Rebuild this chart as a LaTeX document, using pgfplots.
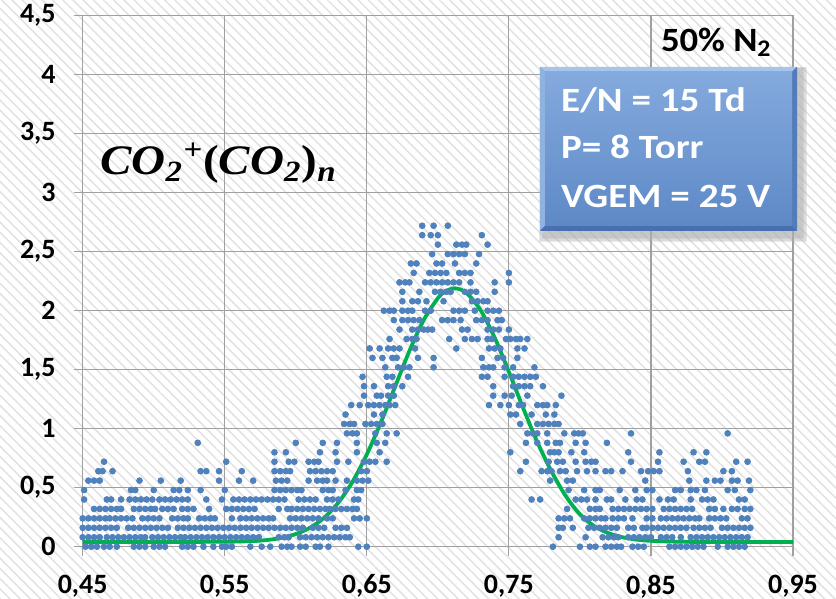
\documentclass[border=0pt]{standalone}
\usepackage[no-math]{fontspec}
\setmainfont{Carlito}
\newfontfamily\titlefont{Liberation Serif}
\usepackage{graphicx}
\usepackage{pgfplots}
\pgfplotsset{compat=1.18}
\usetikzlibrary{patterns.meta}
\definecolor{dotblue}{HTML}{4F81BD}
\definecolor{fitgreen}{HTML}{00B050}
\definecolor{gridgray}{HTML}{A0A0A0}
\definecolor{stripe}{HTML}{E2E2E2}
\definecolor{boxtop}{HTML}{A7C4EA}
\definecolor{boxleft}{HTML}{8FB2E0}
\definecolor{boxbot}{HTML}{4670AE}
\definecolor{boxright}{HTML}{537DBA}
\definecolor{boxin1}{HTML}{84AADE}
\definecolor{boxin2}{HTML}{5E89C6}
\definecolor{shad}{HTML}{B0B0B0}
\newcommand{\titletext}{\scalebox{1.12}[1]{\titlefont\fontsize{21}{24}\selectfont\bfseries\itshape CO\textsubscript{2}\textsuperscript{+}{\upshape(}CO\textsubscript{2}{\upshape)}\textsubscript{n}}}
\newcommand{\gastext}{\scalebox{1.08}[1]{\bfseries\fontsize{17}{20}\selectfont 50\% N\textsubscript{2}}}
\newcommand{\boxline}[1]{\scalebox{1.15}[1]{\bfseries\fontsize{17}{20}\selectfont #1}}
\begin{document}
\begin{tikzpicture}
\path[use as bounding box] (0pt,0pt) rectangle (418pt,299.5pt);
\fill[white] (0pt,0pt) rectangle (418pt,299.5pt);
\fill[pattern={Lines[angle=-45,distance=3.6pt,line width=0.75pt]},pattern color=stripe] (0pt,0pt) rectangle (418pt,299.5pt);
\begin{axis}[at={(41.35pt,26.15pt)}, anchor=south west, scale only axis,
  width=355.15pt, height=265.5pt,
  xmin=0.45, xmax=0.95, ymin=0, ymax=4.5,
  xtick={0.45,0.55,0.65,0.75,0.85,0.95},
  xticklabels={{0,45},{0,55},{0,65},{0,75},{0,85},{0,95}},
  ytick={0,0.5,1,1.5,2,2.5,3,3.5,4,4.5},
  yticklabels={0,{0,5},1,{1,5},2,{2,5},3,{3,5},4,{4,5}},
  grid=major, grid style={gridgray,line width=0.6pt},
  axis line style={gridgray,line width=0.6pt},
  tick style={gridgray,line width=0.6pt},
  tick align=outside, major tick length=4.5pt,
  xtick pos=bottom, ytick pos=left,
  ticklabel style={font=\bfseries\fontsize{14}{16}\selectfont, text=black},
  yticklabel style={xshift=-5.5pt},
  xticklabel style={yshift=-6pt},
  clip=false]
\addplot[dotblue, only marks, mark=*, mark size=1.45pt] coordinates {
(0.452,0)(0.456,0)(0.460,0)(0.465,0)(0.469,0)(0.474,0)(0.486,0)(0.490,0)(0.494,0)(0.500,0)(0.504,0)(0.508,0)(0.520,0)(0.524,0)(0.528,0)(0.535,0)(0.542,0)(0.548,0)(0.551,0)(0.555,0)(0.568,0)(0.576,0)(0.582,0)(0.590,0)(0.594,0)(0.597,0)(0.603,0)(0.607,0)(0.614,0)(0.617,0)(0.623,0)(0.644,0)(0.650,0)(0.781,0)(0.800,0)(0.807,0)(0.811,0)(0.818,0)(0.822,0)(0.826,0)(0.829,0)(0.837,0)(0.841,0)(0.845,0)(0.863,0)(0.867,0)(0.871,0)(0.875,0)(0.879,0)(0.883,0)(0.887,0)(0.897,0)(0.904,0)(0.908,0)(0.912,0)(0.916,0)
(0.450,0.08)(0.454,0.08)(0.458,0.08)(0.462,0.08)(0.467,0.08)(0.471,0.08)(0.475,0.08)(0.479,0.08)(0.483,0.08)(0.487,0.08)(0.491,0.08)(0.494,0.08)(0.499,0.08)(0.503,0.08)(0.507,0.08)(0.511,0.08)(0.515,0.08)(0.519,0.08)(0.522,0.08)(0.526,0.08)(0.530,0.08)(0.534,0.08)(0.538,0.08)(0.542,0.08)(0.546,0.08)(0.550,0.08)(0.554,0.08)(0.558,0.08)(0.562,0.08)(0.566,0.08)(0.570,0.08)(0.574,0.08)(0.588,0.08)(0.592,0.08)(0.595,0.08)(0.603,0.08)(0.607,0.08)(0.611,0.08)(0.615,0.08)(0.619,0.08)(0.623,0.08)(0.627,0.08)(0.631,0.08)(0.635,0.08)(0.638,0.08)(0.785,0.08)(0.804,0.08)(0.816,0.08)(0.820,0.08)(0.824,0.08)(0.827,0.08)(0.834,0.08)(0.838,0.08)(0.842,0.08)(0.846,0.08)(0.850,0.08)(0.857,0.08)(0.861,0.08)(0.865,0.08)(0.871,0.08)(0.878,0.08)(0.882,0.08)(0.886,0.08)(0.890,0.08)(0.894,0.08)(0.898,0.08)(0.902,0.08)(0.906,0.08)(0.910,0.08)(0.914,0.08)(0.918,0.08)
(0.450,0.16)(0.454,0.16)(0.458,0.16)(0.462,0.16)(0.466,0.16)(0.470,0.16)(0.474,0.16)(0.482,0.16)(0.486,0.16)(0.490,0.16)(0.494,0.16)(0.498,0.16)(0.502,0.16)(0.506,0.16)(0.510,0.16)(0.517,0.16)(0.521,0.16)(0.525,0.16)(0.529,0.16)(0.533,0.16)(0.537,0.16)(0.541,0.16)(0.545,0.16)(0.549,0.16)(0.553,0.16)(0.557,0.16)(0.561,0.16)(0.565,0.16)(0.569,0.16)(0.573,0.16)(0.577,0.16)(0.581,0.16)(0.585,0.16)(0.589,0.16)(0.593,0.16)(0.597,0.16)(0.601,0.16)(0.605,0.16)(0.612,0.16)(0.616,0.16)(0.620,0.16)(0.628,0.16)(0.632,0.16)(0.636,0.16)(0.785,0.16)(0.788,0.16)(0.795,0.16)(0.806,0.16)(0.810,0.16)(0.814,0.16)(0.818,0.16)(0.822,0.16)(0.826,0.16)(0.834,0.16)(0.838,0.16)(0.844,0.16)(0.847,0.16)(0.851,0.16)(0.855,0.16)(0.859,0.16)(0.863,0.16)(0.867,0.16)(0.871,0.16)(0.875,0.16)(0.880,0.16)(0.884,0.16)(0.888,0.16)(0.892,0.16)(0.900,0.16)(0.904,0.16)(0.908,0.16)(0.912,0.16)(0.916,0.16)(0.920,0.16)
(0.450,0.24)(0.454,0.24)(0.458,0.24)(0.462,0.24)(0.466,0.24)(0.469,0.24)(0.473,0.24)(0.477,0.24)(0.481,0.24)(0.485,0.24)(0.492,0.24)(0.496,0.24)(0.500,0.24)(0.504,0.24)(0.513,0.24)(0.517,0.24)(0.521,0.24)(0.524,0.24)(0.532,0.24)(0.536,0.24)(0.540,0.24)(0.543,0.24)(0.555,0.24)(0.561,0.24)(0.565,0.24)(0.569,0.24)(0.573,0.24)(0.577,0.24)(0.581,0.24)(0.584,0.24)(0.596,0.24)(0.600,0.24)(0.604,0.24)(0.608,0.24)(0.612,0.24)(0.616,0.24)(0.622,0.24)(0.626,0.24)(0.641,0.24)(0.645,0.24)(0.650,0.24)(0.785,0.24)(0.789,0.24)(0.793,0.24)(0.803,0.24)(0.807,0.24)(0.811,0.24)(0.815,0.24)(0.818,0.24)(0.823,0.24)(0.827,0.24)(0.831,0.24)(0.837,0.24)(0.847,0.24)(0.851,0.24)(0.857,0.24)(0.861,0.24)(0.865,0.24)(0.869,0.24)(0.873,0.24)(0.877,0.24)(0.881,0.24)(0.884,0.24)(0.891,0.24)(0.895,0.24)(0.899,0.24)(0.903,0.24)(0.914,0.24)(0.918,0.24)
(0.458,0.32)(0.462,0.32)(0.466,0.32)(0.470,0.32)(0.474,0.32)(0.477,0.32)(0.486,0.32)(0.490,0.32)(0.494,0.32)(0.498,0.32)(0.501,0.32)(0.506,0.32)(0.510,0.32)(0.514,0.32)(0.520,0.32)(0.524,0.32)(0.528,0.32)(0.539,0.32)(0.551,0.32)(0.555,0.32)(0.559,0.32)(0.563,0.32)(0.567,0.32)(0.571,0.32)(0.588,0.32)(0.594,0.32)(0.597,0.32)(0.601,0.32)(0.605,0.32)(0.609,0.32)(0.613,0.32)(0.617,0.32)(0.621,0.32)(0.624,0.32)(0.628,0.32)(0.632,0.32)(0.636,0.32)(0.640,0.32)(0.643,0.32)(0.791,0.32)(0.807,0.32)(0.811,0.32)(0.814,0.32)(0.823,0.32)(0.827,0.32)(0.831,0.32)(0.835,0.32)(0.839,0.32)(0.843,0.32)(0.847,0.32)(0.851,0.32)(0.859,0.32)(0.863,0.32)(0.867,0.32)(0.871,0.32)(0.875,0.32)(0.879,0.32)(0.891,0.32)(0.895,0.32)(0.901,0.32)(0.907,0.32)(0.911,0.32)(0.916,0.32)(0.920,0.32)
(0.451,0.40)(0.467,0.40)(0.470,0.40)(0.477,0.40)(0.483,0.40)(0.487,0.40)(0.491,0.40)(0.495,0.40)(0.499,0.40)(0.504,0.40)(0.508,0.40)(0.512,0.40)(0.516,0.40)(0.520,0.40)(0.524,0.40)(0.537,0.40)(0.548,0.40)(0.556,0.40)(0.560,0.40)(0.564,0.40)(0.568,0.40)(0.572,0.40)(0.576,0.40)(0.580,0.40)(0.584,0.40)(0.588,0.40)(0.592,0.40)(0.602,0.40)(0.606,0.40)(0.610,0.40)(0.614,0.40)(0.622,0.40)(0.626,0.40)(0.630,0.40)(0.641,0.40)(0.644,0.40)(0.766,0.40)(0.772,0.40)(0.797,0.40)(0.801,0.40)(0.805,0.40)(0.811,0.40)(0.819,0.40)(0.822,0.40)(0.832,0.40)(0.840,0.40)(0.844,0.40)(0.856,0.40)(0.862,0.40)(0.866,0.40)(0.878,0.40)(0.886,0.40)(0.890,0.40)(0.894,0.40)(0.912,0.40)(0.916,0.40)
(0.451,0.48)(0.484,0.48)(0.487,0.48)(0.500,0.48)(0.514,0.48)(0.518,0.48)(0.524,0.48)(0.533,0.48)(0.550,0.48)(0.585,0.48)(0.589,0.48)(0.593,0.48)(0.597,0.48)(0.601,0.48)(0.604,0.48)(0.619,0.48)(0.623,0.48)(0.626,0.48)(0.635,0.48)(0.643,0.48)(0.646,0.48)(0.792,0.48)(0.803,0.48)(0.811,0.48)(0.814,0.48)(0.828,0.48)(0.839,0.48)(0.847,0.48)(0.851,0.48)(0.867,0.48)(0.871,0.48)(0.878,0.48)(0.882,0.48)(0.888,0.48)(0.904,0.48)(0.909,0.48)(0.920,0.48)
(0.454,0.56)(0.458,0.56)(0.462,0.56)(0.490,0.56)(0.505,0.56)(0.519,0.56)(0.546,0.56)(0.560,0.56)(0.570,0.56)(0.586,0.56)(0.590,0.56)(0.594,0.56)(0.609,0.56)(0.615,0.56)(0.619,0.56)(0.622,0.56)(0.628,0.56)(0.636,0.56)(0.643,0.56)(0.647,0.56)(0.651,0.56)(0.779,0.56)(0.791,0.56)(0.795,0.56)(0.846,0.56)(0.877,0.56)(0.889,0.56)(0.895,0.56)(0.899,0.56)(0.907,0.56)(0.911,0.56)(0.919,0.56)
(0.461,0.64)(0.464,0.64)(0.471,0.64)(0.533,0.64)(0.537,0.64)(0.546,0.64)(0.562,0.64)(0.585,0.64)(0.589,0.64)(0.593,0.64)(0.596,0.64)(0.610,0.64)(0.614,0.64)(0.618,0.64)(0.622,0.64)(0.626,0.64)(0.646,0.64)(0.650,0.64)(0.758,0.64)(0.773,0.64)(0.777,0.64)(0.780,0.64)(0.786,0.64)(0.790,0.64)(0.798,0.64)(0.805,0.64)(0.811,0.64)(0.818,0.64)(0.822,0.64)(0.830,0.64)(0.843,0.64)(0.848,0.64)(0.852,0.64)(0.856,0.64)(0.876,0.64)(0.901,0.64)(0.907,0.64)
(0.465,0.72)(0.551,0.72)(0.585,0.72)(0.595,0.72)(0.599,0.72)(0.609,0.72)(0.613,0.72)(0.616,0.72)(0.629,0.72)(0.637,0.72)(0.648,0.72)(0.652,0.72)(0.656,0.72)(0.664,0.72)(0.762,0.72)(0.778,0.72)(0.784,0.72)(0.788,0.72)(0.797,0.72)(0.804,0.72)(0.808,0.72)(0.811,0.72)(0.836,0.72)(0.855,0.72)(0.873,0.72)(0.884,0.72)(0.888,0.72)(0.910,0.72)(0.918,0.72)
(0.585,0.80)(0.593,0.80)(0.617,0.80)(0.628,0.80)(0.643,0.80)(0.659,0.80)(0.751,0.80)(0.779,0.80)(0.782,0.80)(0.785,0.80)(0.794,0.80)(0.803,0.80)(0.834,0.80)(0.856,0.80)(0.880,0.80)(0.889,0.80)
(0.531,0.88)(0.600,0.88)(0.619,0.88)(0.629,0.88)(0.643,0.88)(0.657,0.88)(0.663,0.88)(0.762,0.88)(0.770,0.88)(0.777,0.88)(0.783,0.88)(0.786,0.88)(0.797,0.88)(0.804,0.88)(0.819,0.88)
(0.636,0.96)(0.640,0.96)(0.643,0.96)(0.656,0.96)(0.664,0.96)(0.671,0.96)(0.763,0.96)(0.767,0.96)(0.770,0.96)(0.777,0.96)(0.789,0.96)(0.796,0.96)(0.799,0.96)(0.802,0.96)(0.836,0.96)(0.904,0.96)
(0.634,1.04)(0.638,1.04)(0.641,1.04)(0.649,1.04)(0.653,1.04)(0.657,1.04)(0.661,1.04)(0.758,1.04)(0.770,1.04)(0.774,1.04)(0.778,1.04)(0.782,1.04)(0.785,1.04)
(0.635,1.12)(0.655,1.12)(0.661,1.12)(0.751,1.12)(0.755,1.12)(0.766,1.12)(0.776,1.12)(0.782,1.12)
(0.639,1.20)(0.645,1.20)(0.651,1.20)(0.655,1.20)(0.659,1.20)(0.663,1.20)(0.666,1.20)(0.670,1.20)(0.736,1.20)(0.744,1.20)(0.750,1.20)(0.757,1.20)(0.760,1.20)(0.770,1.20)(0.774,1.20)(0.777,1.20)(0.783,1.20)
(0.648,1.28)(0.657,1.28)(0.660,1.28)(0.665,1.28)(0.669,1.28)(0.739,1.28)(0.747,1.28)(0.752,1.28)(0.763,1.28)(0.787,1.28)
(0.648,1.36)(0.655,1.36)(0.665,1.36)(0.669,1.36)(0.675,1.36)(0.739,1.36)(0.753,1.36)(0.757,1.36)(0.761,1.36)(0.765,1.36)(0.774,1.36)
(0.647,1.44)(0.664,1.44)(0.668,1.44)(0.679,1.44)(0.731,1.44)(0.735,1.44)(0.747,1.44)(0.753,1.44)(0.757,1.44)(0.761,1.44)(0.765,1.44)(0.769,1.44)
(0.663,1.52)(0.672,1.52)(0.676,1.52)(0.680,1.52)(0.697,1.52)(0.732,1.52)(0.736,1.52)(0.739,1.52)(0.747,1.52)(0.753,1.52)(0.768,1.52)
(0.654,1.60)(0.661,1.60)(0.668,1.60)(0.671,1.60)(0.686,1.60)(0.697,1.60)(0.731,1.60)(0.742,1.60)(0.746,1.60)(0.756,1.60)
(0.652,1.68)(0.659,1.68)(0.665,1.68)(0.669,1.68)(0.673,1.68)(0.684,1.68)(0.713,1.68)(0.736,1.68)(0.740,1.68)(0.744,1.68)(0.756,1.68)(0.761,1.68)
(0.666,1.76)(0.678,1.76)(0.682,1.76)(0.685,1.76)(0.708,1.76)(0.719,1.76)(0.724,1.76)(0.728,1.76)(0.735,1.76)(0.738,1.76)(0.748,1.76)(0.751,1.76)(0.755,1.76)(0.758,1.76)(0.763,1.76)
(0.673,1.84)(0.682,1.84)(0.686,1.84)(0.690,1.84)(0.693,1.84)(0.696,1.84)(0.717,1.84)(0.721,1.84)(0.735,1.84)(0.739,1.84)(0.743,1.84)(0.750,1.84)
(0.669,1.92)(0.675,1.92)(0.679,1.92)(0.683,1.92)(0.687,1.92)(0.703,1.92)(0.707,1.92)(0.711,1.92)(0.716,1.92)(0.727,1.92)(0.731,1.92)(0.735,1.92)(0.742,1.92)(0.745,1.92)
(0.662,2.00)(0.666,2.00)(0.669,2.00)(0.675,2.00)(0.679,2.00)(0.682,2.00)(0.691,2.00)(0.695,2.00)(0.711,2.00)(0.715,2.00)(0.719,2.00)(0.726,2.00)(0.735,2.00)(0.739,2.00)(0.743,2.00)
(0.675,2.08)(0.682,2.08)(0.686,2.08)(0.692,2.08)(0.704,2.08)(0.724,2.08)(0.728,2.08)(0.732,2.08)(0.735,2.08)
(0.675,2.16)(0.687,2.16)(0.698,2.16)(0.702,2.16)(0.706,2.16)(0.709,2.16)(0.719,2.16)(0.723,2.16)(0.727,2.16)(0.740,2.16)
(0.673,2.24)(0.677,2.24)(0.680,2.24)(0.691,2.24)(0.695,2.24)(0.699,2.24)(0.703,2.24)(0.707,2.24)(0.711,2.24)(0.715,2.24)(0.723,2.24)(0.740,2.24)(0.750,2.24)
(0.683,2.32)(0.694,2.32)(0.698,2.32)(0.702,2.32)(0.706,2.32)(0.715,2.32)(0.719,2.32)(0.723,2.32)(0.750,2.32)
(0.681,2.40)(0.685,2.40)(0.699,2.40)(0.703,2.40)(0.712,2.40)(0.727,2.40)
(0.696,2.48)(0.707,2.48)(0.711,2.48)(0.715,2.48)(0.719,2.48)(0.729,2.48)
(0.700,2.56)(0.713,2.56)(0.717,2.56)(0.720,2.56)(0.735,2.56)
(0.689,2.64)(0.695,2.64)(0.700,2.64)(0.731,2.64)
(0.689,2.72)(0.697,2.72)(0.707,2.72)
};
\addplot[fitgreen, line width=1.9pt, smooth, no marks] coordinates {
(0.45,0.04)(0.50,0.04)(0.55,0.042)(0.57,0.048)(0.58,0.057)(0.59,0.075)(0.60,0.107)(0.61,0.161)(0.62,0.246)(0.63,0.374)(0.64,0.552)(0.65,0.782)(0.66,1.057)(0.67,1.359)(0.68,1.659)(0.69,1.920)(0.70,2.106)(0.705,2.161)(0.712,2.19)(0.72,2.152)(0.73,2.006)(0.74,1.771)(0.75,1.482)(0.76,1.176)(0.77,0.887)(0.78,0.638)(0.79,0.430)(0.80,0.275)(0.81,0.175)(0.82,0.115)(0.83,0.080)(0.84,0.060)(0.85,0.050)(0.87,0.042)(0.90,0.04)(0.95,0.04)
};
\end{axis}
\node[anchor=base west, inner sep=0pt] at (50pt,212pt) {\titletext};
\node[anchor=base west, inner sep=0pt] at (330.3pt,273.65pt) {\gastext};
\fill[shad, opacity=0.25] (271.4pt,180.7pt) rectangle (401.3pt,265.3pt);
\fill[shad, opacity=0.25] (270.8pt,179.9pt) rectangle (402.1pt,265.6pt);
\fill[shad, opacity=0.25] (270.2pt,179.1pt) rectangle (402.9pt,265.9pt);
\fill[shad, opacity=0.25] (269.6pt,178.3pt) rectangle (403.7pt,266.2pt);
\fill[boxin2] (270pt,184pt) rectangle (398.5pt,266pt);
\fill[boxtop] (270pt,266pt) -- (398.5pt,266pt) -- (396pt,263.5pt) -- (272.5pt,263.5pt) -- cycle;
\fill[boxleft] (270pt,184pt) -- (270pt,266pt) -- (272.5pt,263.5pt) -- (272.5pt,186.5pt) -- cycle;
\fill[boxbot] (270pt,184pt) -- (398.5pt,184pt) -- (396pt,186.5pt) -- (272.5pt,186.5pt) -- cycle;
\fill[boxright] (398.5pt,184pt) -- (398.5pt,266pt) -- (396pt,263.5pt) -- (396pt,186.5pt) -- cycle;
\shade[top color=boxin1, bottom color=boxin2] (272.5pt,186.5pt) rectangle (396pt,263.5pt);
\node[anchor=base west, inner sep=0pt, text=white] at (280.3pt,243.5pt) {\boxline{E/N = 15 Td}};
\node[anchor=base west, inner sep=0pt, text=white] at (280.3pt,220pt) {\boxline{P= 8 Torr}};
\node[anchor=base west, inner sep=0pt, text=white] at (280.3pt,195.7pt) {\boxline{VGEM = 25 V}};
\end{tikzpicture}
\end{document}
